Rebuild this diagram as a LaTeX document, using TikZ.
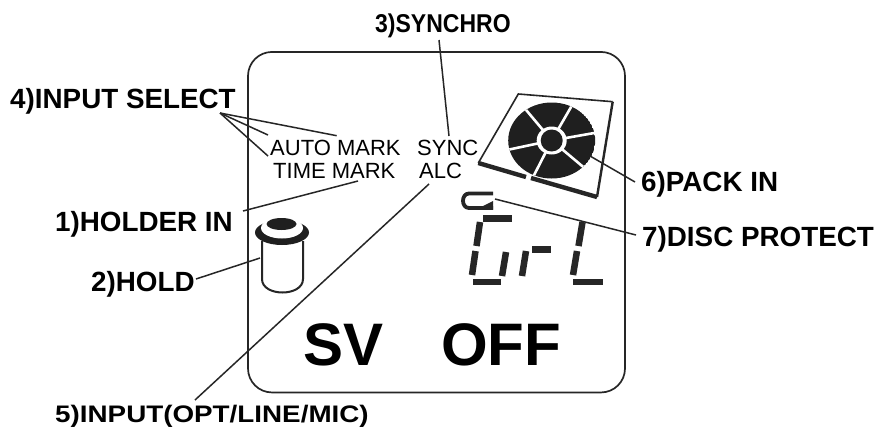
\documentclass[tikz,border=0pt]{standalone}
\usepackage{fontspec}
\setmainfont{Liberation Sans}
\begin{document}
\begin{tikzpicture}[x=1pt,y=-1pt,
  lab/.style={anchor=base west,inner sep=0pt,font=\fontsize{27.8}{29}\selectfont\bfseries},
  small/.style={anchor=base west,inner sep=0pt,font=\fontsize{22}{23}\selectfont},
  big/.style={anchor=base west,inner sep=0pt,font=\fontsize{60}{61}\selectfont\bfseries},
  lead/.style={draw=black!85,line width=1.5pt},
  seg/.style={draw=black!85,line width=6.5pt},
  gapw/.style={draw=white,line width=2.6pt}]
\useasboundingbox (0,0) rectangle (875,431);
\fill[white] (0,0) rectangle (875,431);
% panel
\node[draw=black!85,line width=1.7pt,rounded corners=24pt,minimum width=377pt,minimum height=340.5pt,inner sep=0pt] (panel) at (436.5,222.2) {};
% labels
\node[lab,font=\fontsize{23}{24}\selectfont\bfseries,yscale=1.12] (l3) at (375,32) {3)SYNCHRO};
\node[lab] (l4) at (10,108) {4)INPUT SELECT};
\node[lab] (l1) at (55,231) {1)HOLDER IN};
\node[lab] (l2) at (91,291) {2)HOLD};
\node[lab,yscale=0.86] (l5) at (55,422) {5)INPUT(OPT/LINE/MIC)};
\node[lab] (l6) at (641,191) {6)PACK IN};
\node[lab] (l7) at (642,246) {7)DISC PROTECT};
% small text
\node[small] (am) at (270,155) {AUTO MARK};
\node[small] (tm) at (273,178) {TIME MARK};
\node[small] (sy) at (417,155) {SYNC};
\node[small] (al) at (419,178) {ALC};
\node[big] (sv) at (303,365) {SV};
\node[big] (of) at (441,365) {OFF};
% pack frame
\coordinate (p1) at (518.3,94);
\coordinate (p2) at (612.7,101.7);
\coordinate (p3) at (597,197);
\coordinate (p4) at (478.3,163);
\coordinate (p5) at (526,177);
\coordinate (p6) at (531,178);
\draw[line width=1.6pt,black!85] (p4) -- (p1) -- (p2);
\draw[line width=2.4pt,black!85] (p2) -- (p3);
\draw[line width=4.4pt,black!85] (p4) -- (p5);
\draw[line width=4.4pt,black!85] (p6) -- (p3);
% disc
\coordinate (dc) at (551.7,140.5);
\begin{scope}
\clip (dc) ellipse (43.5pt and 38pt);
\fill[black!88] (dc) ellipse (43.5pt and 38pt);
\foreach \a in {60,10,-40,-117,192,130}
  \draw[gapw] (dc) -- ++(\a:50pt);
\end{scope}
\fill[white] (dc) ellipse (15pt and 14pt);
\node[circle,fill=black!88,minimum size=22pt,inner sep=0pt] (hub) at (dc) {};
% pack leader
\coordinate (c6) at (590,156);
\coordinate (c7) at (495,199);
% Gr-L
\draw[seg] (483,218.5) -- (512,218.5);
\draw[seg] (480,222) -- (476.5,246);
\draw[seg] (475.5,251) -- (472,275);
\draw[seg] (473,282) -- (501,282);
\draw[seg] (506,252) -- (502,276);
\draw[seg] (526,251) -- (522,276);
\draw[seg] (532,249.5) -- (551,249.5);
\draw[seg] (582.5,222) -- (578.5,246);
\draw[seg] (577,251) -- (573,275);
\draw[seg] (573,282) -- (603,282);
% protect icon
\draw[line width=3.8pt,black!85] (493,193.5) -- (469,193.5) .. controls (461,193.5) and (461,208) .. (469,208) -- (493,208);
\fill[black!85] (481,207) -- (493,201) -- (493,209.5) -- (481,209.5) -- cycle;
% hold
\coordinate (c2) at (260,258);
\fill[black!88] (282,232.5) ellipse (27pt and 12.5pt);
\fill[white] (282,228) ellipse (21pt and 10.5pt);
\fill[black!88] (281.5,224) ellipse (15pt and 6pt);
\draw[line width=2pt,black!85] (262,241) -- (262,279) .. controls (262,297) and (303,297) .. (303,279) -- (303,241);
% leaders
\coordinate (e3) at (449,136);
\coordinate (o3) at (439,40);
\coordinate (o4) at (220,113);
\coordinate (e4a) at (336.7,135.7);
\coordinate (e4b) at (268,135);
\coordinate (e4c) at (268,156);
\coordinate (e1) at (358,181);
\coordinate (o1) at (243,211);
\coordinate (e5) at (429,184);
\coordinate (o5) at (195,400);
\coordinate (o2) at (196,279);
\coordinate (o6) at (635,182);
\coordinate (o7) at (636,235);
\draw[lead] (o3) -- (e3);
\draw[lead] (o4) -- (e4a);
\draw[lead] (o4) -- (e4b);
\draw[lead] (o4) -- (e4c);
\draw[lead] (o1) -- (e1);
\draw[lead] (o5) -- (e5);
\draw[lead] (o2) -- (c2);
\draw[lead] (c6) -- (o6);
\draw[lead] (c7) -- (o7);
\end{tikzpicture}
\end{document}
